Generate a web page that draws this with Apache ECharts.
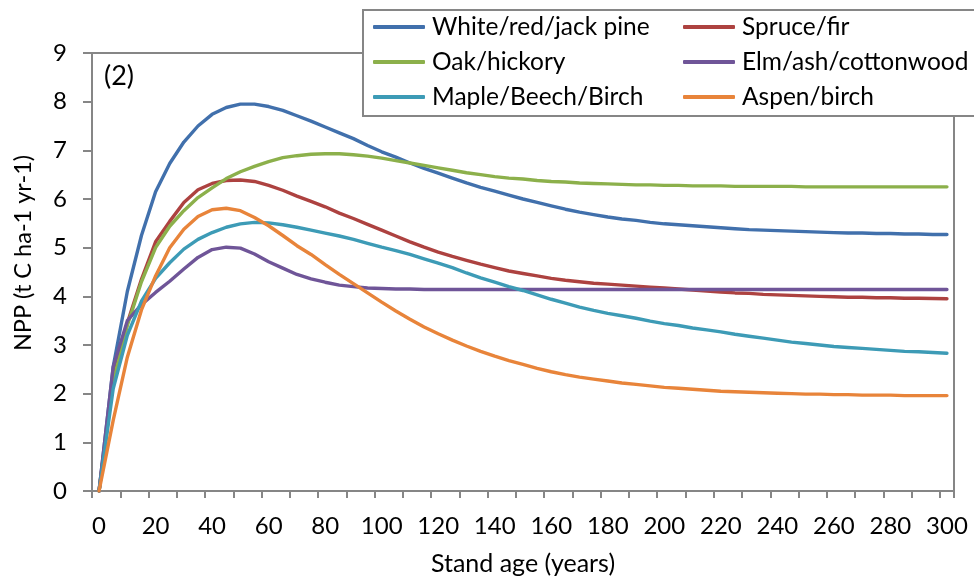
<!DOCTYPE html>
<html>
<head>
<meta charset="utf-8">
<script src="https://cdn.jsdelivr.net/npm/echarts@6/dist/echarts.min.js"></script>
<style>
html,body{margin:0;padding:0;background:#fff;}
#chart{width:974px;height:581px;}
</style>
</head>
<body>
<div id="chart"></div>
<script>
// Stand age categories (years)
var ages = [0,5,10,15,20,25,30,35,40,45,50,55,60,65,70,75,80,85,90,95,100,105,110,115,120,125,130,135,140,145,150,155,160,165,170,175,180,185,190,195,200,205,210,215,220,225,230,235,240,245,250,255,260,265,270,275,280,285,290,295,300];

var seriesNames = ['White/red/jack pine','Spruce/fir','Oak/hickory','Elm/ash/cottonwood','Maple/Beech/Birch','Aspen/birch'];

var whiteRedJackPine = [0,2.55,4.1,5.25,6.15,6.73,7.17,7.5,7.74,7.88,7.95,7.95,7.9,7.82,7.71,7.6,7.48,7.36,7.24,7.1,6.97,6.86,6.74,6.63,6.53,6.43,6.33,6.24,6.16,6.08,6.0,5.93,5.86,5.79,5.73,5.68,5.63,5.59,5.56,5.52,5.49,5.47,5.45,5.43,5.41,5.39,5.37,5.36,5.35,5.34,5.33,5.32,5.31,5.3,5.3,5.29,5.29,5.28,5.28,5.27,5.27];
var spruceFir = [0,2.3,3.45,4.35,5.12,5.54,5.93,6.19,6.32,6.38,6.39,6.36,6.28,6.18,6.06,5.95,5.84,5.71,5.6,5.48,5.36,5.24,5.12,5.01,4.91,4.82,4.74,4.66,4.59,4.52,4.47,4.42,4.37,4.33,4.3,4.27,4.25,4.23,4.21,4.19,4.17,4.15,4.13,4.11,4.09,4.07,4.06,4.04,4.03,4.02,4.01,4.0,3.99,3.98,3.98,3.97,3.97,3.96,3.96,3.955,3.95];
var oakHickory = [0,2.25,3.4,4.3,5.0,5.44,5.76,6.03,6.23,6.42,6.56,6.67,6.77,6.85,6.89,6.92,6.93,6.93,6.91,6.88,6.84,6.79,6.74,6.69,6.64,6.59,6.54,6.5,6.46,6.43,6.41,6.38,6.36,6.35,6.33,6.32,6.31,6.3,6.29,6.29,6.28,6.28,6.27,6.27,6.27,6.26,6.26,6.26,6.26,6.26,6.25,6.25,6.25,6.25,6.25,6.25,6.25,6.25,6.25,6.25,6.25];
var elmAshCottonwood = [0,2.55,3.5,3.83,4.08,4.31,4.56,4.8,4.96,5.01,4.99,4.87,4.71,4.58,4.45,4.36,4.29,4.23,4.2,4.17,4.16,4.15,4.15,4.14,4.14,4.14,4.14,4.14,4.14,4.14,4.14,4.14,4.14,4.14,4.14,4.14,4.14,4.14,4.14,4.14,4.14,4.14,4.14,4.14,4.14,4.14,4.14,4.14,4.14,4.14,4.14,4.14,4.14,4.14,4.14,4.14,4.14,4.14,4.14,4.14,4.14];
var mapleBeechBirch = [0,2.1,3.2,3.9,4.37,4.69,4.97,5.17,5.31,5.42,5.49,5.52,5.51,5.47,5.42,5.36,5.3,5.24,5.17,5.09,5.01,4.94,4.86,4.77,4.68,4.59,4.48,4.38,4.29,4.2,4.12,4.03,3.94,3.86,3.78,3.71,3.65,3.6,3.55,3.49,3.44,3.4,3.35,3.31,3.27,3.22,3.18,3.14,3.1,3.06,3.03,3.0,2.97,2.95,2.93,2.91,2.89,2.87,2.86,2.845,2.83];
var aspenBirch = [0,1.45,2.75,3.72,4.42,5.0,5.38,5.64,5.78,5.81,5.76,5.62,5.45,5.25,5.04,4.86,4.65,4.45,4.26,4.07,3.88,3.7,3.53,3.37,3.23,3.1,2.98,2.87,2.77,2.68,2.6,2.52,2.45,2.39,2.34,2.3,2.26,2.22,2.19,2.16,2.13,2.11,2.09,2.07,2.05,2.04,2.03,2.02,2.01,2.0,1.99,1.99,1.98,1.98,1.97,1.97,1.97,1.96,1.96,1.96,1.96];

var seriesData = [whiteRedJackPine, spruceFir, oakHickory, elmAshCottonwood, mapleBeechBirch, aspenBirch];
var seriesColors = ['#4170AC','#AD4240','#8CB04B','#6F5598','#3D9BB6','#E8843A'];

var FONT = 'Lato';
var AXIS = '#868686';

var chart = echarts.init(document.getElementById('chart'), null, {renderer:'canvas'});

var series = seriesNames.map(function(n, i){
  return {
    name: n, type: 'line', data: seriesData[i], symbol: 'none', smooth: false,
    lineStyle: {width: 3.4, color: seriesColors[i], cap: 'round', join: 'round'},
    itemStyle: {color: seriesColors[i]},
    z: 2
  };
});

var legendCommon = {
  orient: 'vertical', top: 14, padding: 0, itemWidth: 52, itemHeight: 4, itemGap: 9,
  icon: 'roundRect',
  textStyle: {fontFamily: FONT, fontSize: 24.5, color: '#000', lineHeight: 26, padding: [0,0,0,2]},
  z: 20
};

chart.setOption({
  animation: false,
  backgroundColor: '#fff',
  textStyle: {fontFamily: FONT},
  grid: {left: 92, top: 53, width: 862, height: 443, show: true, borderColor: AXIS, borderWidth: 2, backgroundColor: 'transparent', containLabel: false},
  legend: [
    Object.assign({}, legendCommon, {left: 373, data: [seriesNames[0], seriesNames[2], seriesNames[4]]}),
    Object.assign({}, legendCommon, {left: 683, data: [seriesNames[1], seriesNames[3], seriesNames[5]]})
  ],
  graphic: [
    {type: 'rect', z: 15, shape: {x: 363, y: 10, width: 640, height: 106}, style: {fill: '#fff', stroke: AXIS, lineWidth: 2}},
    {type: 'text', z: 16, x: 104, y: 76, style: {text: '(2)', fontSize: 27, fontFamily: FONT, fill: '#000', verticalAlign: 'middle', align: 'left'}},
    {type: 'text', z: 16, x: 23, y: 253, rotation: Math.PI/2, style: {text: 'NPP (t C ha-1 yr-1)', fontSize: 23.5, fontFamily: FONT, fill: '#000', verticalAlign: 'middle', align: 'center'}}
  ],
  xAxis: {
    type: 'category', data: ages, boundaryGap: true,
    name: 'Stand age (years)', nameLocation: 'middle', nameGap: 60,
    nameTextStyle: {fontFamily: FONT, fontSize: 25, color: '#000'},
    axisLine: {show: true, lineStyle: {color: AXIS, width: 2}},
    axisTick: {show: true, interval: 1, length: 7, lineStyle: {color: AXIS, width: 2}},
    axisLabel: {interval: 3, margin: 23, fontFamily: FONT, fontSize: 24, color: '#000'},
    splitLine: {show: false}
  },
  yAxis: {
    type: 'value', min: 0, max: 9, interval: 1,
    axisLine: {show: true, lineStyle: {color: AXIS, width: 2}},
    axisTick: {show: true, length: 9, lineStyle: {color: AXIS, width: 2}},
    axisLabel: {margin: 25, fontFamily: FONT, fontSize: 24, color: '#000'},
    splitLine: {show: false}
  },
  series: series
});
</script>
</body>
</html>
